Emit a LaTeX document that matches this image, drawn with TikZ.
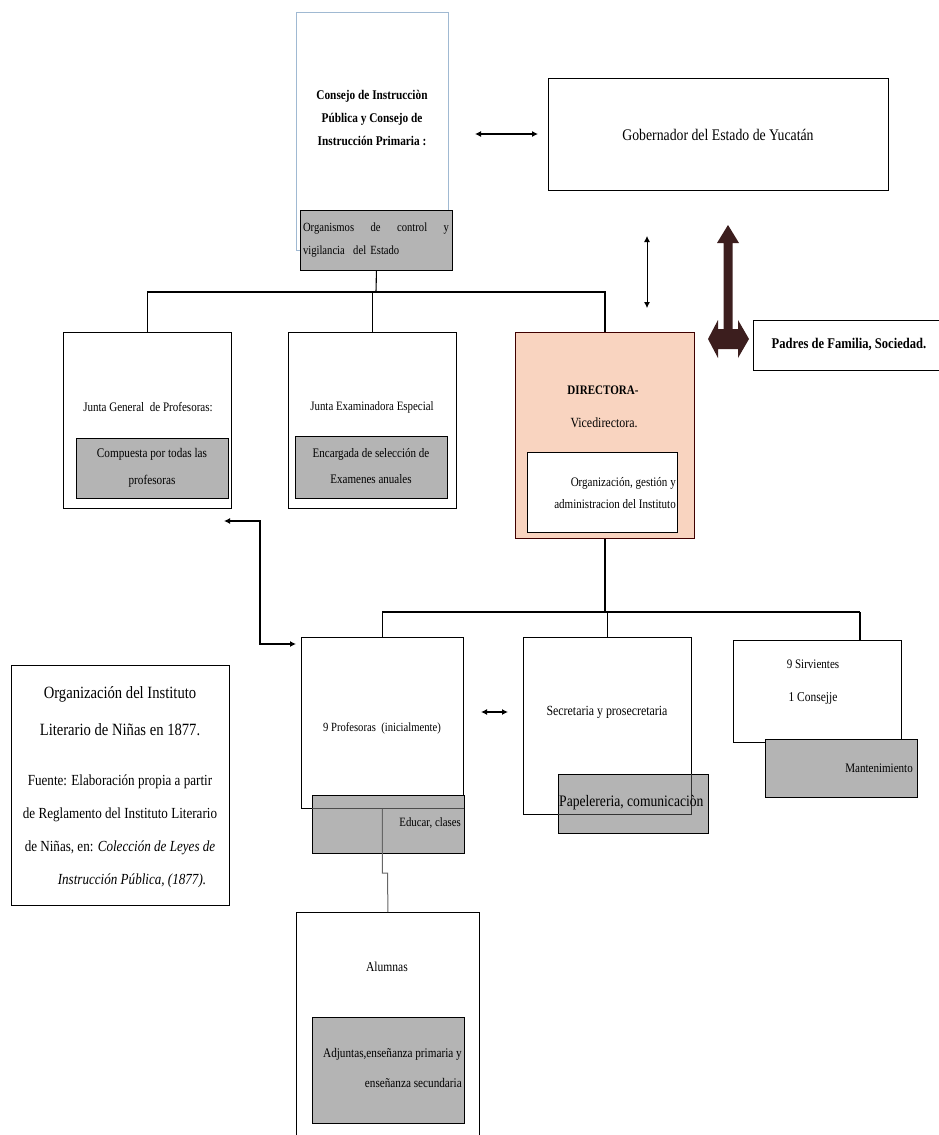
\documentclass[tikz,border=0pt]{standalone}
\usepackage{fontspec}
\setmainfont{Liberation Serif}[FakeStretch=0.85]
\usetikzlibrary{arrows.meta}
\definecolor{gfill}{RGB}{180,180,180}
\definecolor{peach}{RGB}{249,212,192}
\definecolor{darkarr}{RGB}{60,30,30}
\definecolor{paleblue}{RGB}{160,185,210}
\newcommand{\fs}[2]{\fontsize{#1}{#2}\selectfont}
\begin{document}
\begin{tikzpicture}[x=1pt,y=-1pt,
  box/.style={draw, line width=0.9pt, fill=white, inner sep=0pt, anchor=north west},
  gbox/.style={box, fill=gfill},
  txt/.style={inner sep=0pt, anchor=center},
  conn/.style={line width=1.1pt},
  dbl/.style={line width=1.1pt, {Latex[length=6pt,width=6pt]}-{Latex[length=6pt,width=6pt]}},
]
\useasboundingbox (0,0) rectangle (939,1135);

% ---------- top level ----------
\node[box, draw=paleblue, line width=0.6pt, minimum width=152, minimum height=238] (consejo) at (296,12) {};
\node[txt, align=center, font=\bfseries\fs{13.3}{23}] (consejo-t) at (372,118)
  {Consejo de Instrucciòn\\Pública y Consejo de\\Instrucción Primaria :};
\node[gbox, minimum width=152, minimum height=60] (org) at (300,210) {};
\node[txt, text width=146, align=left, font=\fs{12.5}{23}] (org-t) at (376,240)
  {Organismos\hfill de\hfill control\hfill y\\vigilancia\ \ del Estado};

\node[box, minimum width=340, minimum height=112] (gob) at (548,78) {};
\node[txt, font=\fs{16.2}{18}] (gob-t) at (718,135) {Gobernador del Estado de Yucatán};

\coordinate (ga) at (475,134);
\coordinate (gb) at (538,134);
\draw[dbl] (ga) -- (gb);

\coordinate (va) at (647,236);
\coordinate (vb) at (647,308);
\draw[dbl, line width=0.8pt] (va) -- (vb);

\fill[darkarr] (728,225) -- (739,243) -- (732.5,243) -- (732.5,329) -- (738,329) -- (738,320)
  -- (749,339) -- (738,358) -- (738,349) -- (718,349) -- (718,358) -- (708,339) -- (718,320)
  -- (718,329) -- (723.5,329) -- (723.5,243) -- (717,243) -- cycle;

\node[box, minimum width=192, minimum height=50] (padres) at (753,320) {};
\node[txt, font=\bfseries\fs{14.8}{16}] (padres-t) at (849,345) {Padres de Familia, Sociedad.};

% ---------- second level ----------
\node[box, minimum width=168, minimum height=176] (jg) at (63,332) {};
\node[txt, font=\fs{13}{14}] (jg-t) at (148,407) {Junta General\ \ de Profesoras:};
\node[gbox, minimum width=152, minimum height=60] (jgg) at (76,438) {};
\node[txt, align=center, font=\fs{13.2}{27}] (jgg-t) at (152,468) {Compuesta por todas las\\profesoras};

\node[box, minimum width=168, minimum height=176] (je) at (288,332) {};
\node[txt, font=\fs{12.8}{14}] (je-t) at (372,407) {Junta Examinadora Especial};
\node[gbox, minimum width=152, minimum height=62] (jeg) at (295,436) {};
\node[txt, align=center, font=\fs{13}{26}] (jeg-t) at (371,466) {Encargada\ de selección\ de\\Examenes anuales};

\node[box, fill=peach, draw=black!75!red, minimum width=179, minimum height=206] (dir) at (515,332) {};
\node[txt, font=\bfseries\fs{13}{14}] (dir-t1) at (603,390) {DIRECTORA-};
\node[txt, font=\fs{14}{14}] (dir-t2) at (604,423) {Vicedirectora.};
\node[box, minimum width=150, minimum height=80] (dirw) at (527,452) {};
\node[txt, anchor=east, align=right, font=\fs{13}{22}] (dirw-t) at (676,493) {Organización,\ gestión y\\administracion del Instituto};

\coordinate (bus1) at (376,292);
\draw[conn, line width=1.5pt] (jg.north) |- (bus1) -| (dir.north);
\draw[conn] (je.north) -- (je.north |- bus1);
\draw[conn] (org.south) -- (bus1);

% ---------- third level ----------
\node[box, minimum width=162, minimum height=171] (prof) at (301,637) {};
\node[txt, font=\fs{12.5}{14}] (prof-t) at (382,728) {9 Profesoras\ \ (inicialmente)};
\node[gbox, minimum width=152, minimum height=58] (profg) at (312,795) {};
\draw[line width=0.6pt, black!70] (312,808) -- (464,808);
\node[txt, anchor=east, font=\fs{12.7}{14}] (profg-t) at (461,823) {Educar,\ clases};

\node[box, minimum width=168, minimum height=177] (sec) at (523,637) {};
\node[txt, font=\fs{14}{14}] (sec-t) at (607,712) {Secretaria y prosecretaria};
\node[gbox, minimum width=150, minimum height=59] (secg) at (558,774) {};
\draw[line width=0.6pt, black!80] (691,774) -- (691,814) -- (558,814);
\node[txt, anchor=west, font=\fs{16}{17}] (secg-t) at (559,803) {Papelereria,\ comunicaciòn};

\node[box, minimum width=168, minimum height=102] (sirv) at (733,640) {};
\node[txt, font=\fs{13}{14}] (sirv-t1) at (813,664) {9 Sirvientes};
\node[txt, font=\fs{13.5}{14}] (sirv-t2) at (813,698) {1 Consejje};
\node[gbox, minimum width=152, minimum height=58] (sirvg) at (765,739) {};
\node[txt, anchor=east, font=\fs{13}{15}] (sirvg-t) at (913,768) {Mantenimiento};

\coordinate (bus2) at (dir.south |- 0,612);
\coordinate (s1) at (860,612);
\draw[conn] (dir.south) -- (bus2);
\draw[line width=2.6pt] (prof.north |- bus2) -- (s1);
\draw[conn] (prof.north |- bus2) -- (prof.north);
\draw[conn] (sec.north |- bus2) -- (sec.north);
\draw[conn] (s1) -- (s1 |- sirv.north);

\coordinate (pa) at (481,712);
\coordinate (pb) at (508,712);
\draw[dbl, line width=1.2pt] (pa) -- (pb);

\coordinate (e1) at (224,521);
\coordinate (e2) at (260,521);
\coordinate (e3) at (296,644);
\draw[dbl, line width=1.4pt] (e1) -- (e2) |- (e3);

% ---------- students ----------
\node[box, minimum width=183, minimum height=240] (alum) at (296,912) {};
\node[txt, font=\fs{13.6}{15}] (alum-t) at (387,967) {Alumnas};
\node[gbox, minimum width=152, minimum height=106] (alumg) at (312,1017) {};
\node[txt, anchor=east, align=right, font=\fs{13.2}{30}] (alumg-t) at (462,1068) {Adjuntas,enseñanza primaria\ y\\enseñanza\ secundaria};
\coordinate (j1) at (prof.south |- 0,873);
\coordinate (j2) at (387.5,873);
\draw[line width=1pt, black!60] (prof.south) -- (j1) -- (j2) -- (alum.north);

% ---------- legend ----------
\node[box, minimum width=218, minimum height=240] (leg) at (11,665) {};
\node[txt, align=center, font=\fs{17.2}{37}] (leg-t1) at (120,711) {Organización del Instituto\\Literario de Niñas en 1877.};
\node[txt, align=center, font=\fs{15.4}{33}] (leg-t2) at (120,815) {Fuente: Elaboración propia a partir\\de Reglamento del Instituto Literario\\de Niñas, en: \textit{Colección de Leyes de}};
\node[txt, font=\itshape\fs{15.4}{16}] (leg-t3) at (132,881) {Instrucción Pública, (1877).};
\end{tikzpicture}
\end{document}
